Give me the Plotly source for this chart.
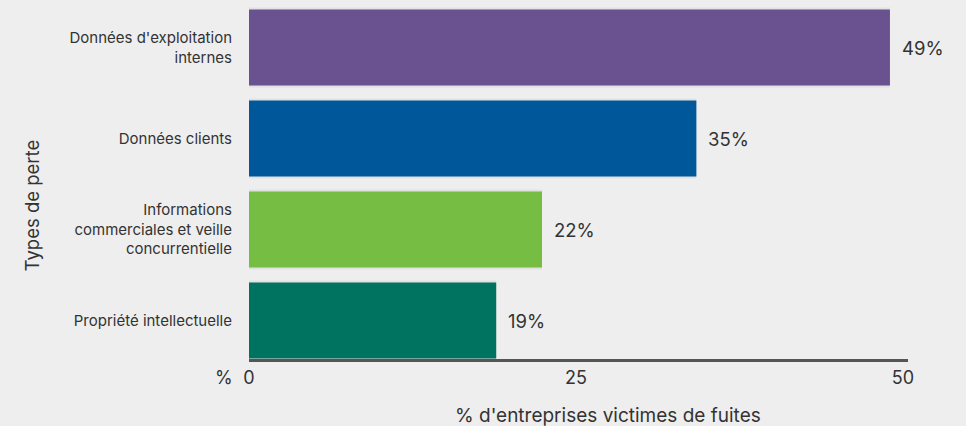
import plotly.graph_objects as go

categories = ["Données d'exploitation<br>internes", "Données clients",
              "Informations<br>commerciales et veille<br>concurrentielle",
              "Propriété intellectuelle"]
values = [49.0, 34.2, 22.4, 18.9]
value_labels = ["49%", "35%", "22%", "19%"]
colors = ["#6a518f", "#00589a", "#76bd43", "#007360"]
tick_vals = [0, 25, 50]
tick_text = ["0", "25", "50"]

FONT = "Inter, Roboto, sans-serif"
TXT = "#333333"
BG = "#eeeeee"

fig = go.Figure()
ypos = list(range(len(categories)))

# soft shadow
fig.add_trace(go.Bar(
    x=values, y=ypos, orientation="h", width=0.88,
    marker=dict(color="rgba(0,0,0,0.05)", line=dict(width=0)),
    hoverinfo="skip", showlegend=False))
fig.add_trace(go.Bar(
    x=values, y=ypos, orientation="h", width=0.835,
    marker=dict(color=colors, line=dict(width=0)),
    showlegend=False))

fig.update_layout(barmode="overlay")

annotations = []
for v, lab, y in zip(values, value_labels, ypos):
    annotations.append(dict(x=v, y=y, xref="x", yref="y", text=lab,
                            showarrow=False, xanchor="left", xshift=10,
                            font=dict(family=FONT, size=18.5, color=TXT)))
annotations.append(dict(x=-0.038, y=0, xref="paper", yref="paper",
                        text="%", showarrow=False, xanchor="center",
                        yanchor="middle", yshift=-18,
                        font=dict(family=FONT, size=18, color=TXT)))
annotations.append(dict(x=-0.328, y=0.43, xref="paper", yref="paper",
                        text="Types de perte", textangle=-90,
                        showarrow=False, xanchor="center", yanchor="middle",
                        font=dict(family=FONT, size=18.5, color=TXT)))
annotations.append(dict(x=0.545, y=0, xref="paper", yref="paper",
                        text="% d'entreprises victimes de fuites",
                        showarrow=False, xanchor="center", yanchor="middle",
                        yshift=-56,
                        font=dict(family=FONT, size=19, color=TXT)))

fig.update_layout(
    width=966, height=426,
    margin=dict(l=249, r=58, t=2, b=67),
    paper_bgcolor=BG, plot_bgcolor=BG,
    font=dict(family=FONT, color=TXT),
    annotations=annotations,
    xaxis=dict(range=[0, 50.38], tickvals=tick_vals, ticktext=tick_text,
               showgrid=False, zeroline=False, showline=True,
               linecolor="#555555", linewidth=3, ticks="",
               tickfont=dict(family=FONT, size=18, color=TXT)),
    yaxis=dict(range=[3.423, -0.5], tickvals=ypos, ticktext=categories,
               showgrid=False, zeroline=False, showline=False, ticks="",
               ticklabelstandoff=16,
               tickfont=dict(family=FONT, size=15, color=TXT)),
)

fig.write_html("out.html")
